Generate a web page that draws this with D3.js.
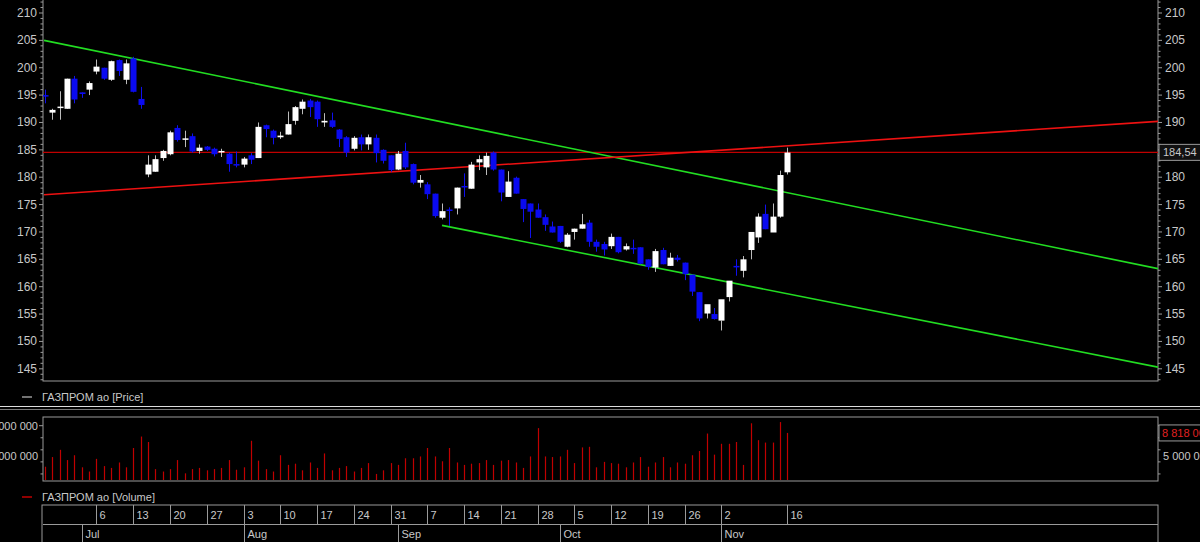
<!DOCTYPE html>
<html>
<head>
<script src="https://cdn.jsdelivr.net/npm/d3@7"></script>
<style>
body{margin:0;background:#000;}
text{font-family:"Liberation Sans",Arial,sans-serif;}
</style>
</head>
<body>
<script>
// OHLC, one per trading day
var opens  = [195,191.8,192.8,192.5,198,195.5,196,199.3,200,197.8,201.4,197.8,201.7,194.3,180.5,181,183.5,184.2,189,187,187.5,184.8,185.6,185.2,184.7,184.3,182.4,182.3,184,183.5,189.5,188.5,187.3,187.8,190.3,192.5,194,193.8,190,190.4,188.7,187.3,185.2,187.3,186,187.2,185,184,181.4,184.8,182.4,179.0,178.7,177.0,172.6,174.1,174.3,178.4,177.9,182.7,181.8,184.5,181.4,176.4,179.9,176.0,175.2,174.1,172.7,171.0,171.1,167.3,170.0,170.6,171.7,168.2,167.8,167.4,169.1,166.8,167.1,167.2,165.0,163.5,166.7,163.8,165.3,164.4,162.2,159.0,155.1,155.0,153.8,158.1,163.8,162.9,166.7,169.0,173.3,169.9,172.8,180.9];
var closes = [194.8,192.3,192.9,198,194.2,195.2,197.2,200.2,198,201.2,199.4,200.8,195.6,193.2,182.3,183.3,184.8,188.2,186.8,187.1,184.7,185.4,185,184.2,184.8,182.4,182.3,183.4,183.2,189.2,188.8,187.2,187.6,189.7,192.8,193.8,192.8,190.6,190.3,189.2,187,184.5,187.2,186,187.3,184.4,183,181.3,184.3,181.8,179.0,179.5,176.9,172.9,173.8,174.0,178.1,178.3,182.3,183.3,183.9,181.4,177.2,179.2,177.0,174.2,173.7,172.6,171.3,169.9,168.2,169.5,170.6,171.4,168.2,167.3,166.8,169.1,166.3,167.4,167.0,164.2,163.6,166.5,164.1,165.3,164.9,162.3,159.1,154.2,156.8,154.1,157.7,161.1,163.7,165.0,170.0,172.8,170.5,172.8,180.4,184.5];
var highs  = [196,192.5,195.7,198,198.5,195.5,197.5,201.5,200,201.3,201.5,201.5,202,196.5,184,184,185,188.5,189.5,188.5,188,186,185.7,185.4,185.2,184.5,184.7,183.7,184.4,190,189.6,188.7,188.3,192,193,194.2,194.3,194,191.7,191.8,188.8,187.5,187.5,187.8,187.8,187.8,185.1,184,184.8,186.3,182.5,180.4,179.1,177.0,175.2,174.5,178.1,180.7,182.8,184,184.5,184.7,181.4,181.1,180.1,176.0,175.2,175.2,173.2,171.9,171.1,169.8,170.6,173.3,172.2,168.6,168.2,169.7,169.1,167.9,168.6,167.2,165.0,166.9,167.1,166.2,165.8,164.4,162.2,159.0,155.8,156.1,153.8,158.7,165.0,165.6,168.1,173.4,175.0,175.2,181.2,185.4];
var lows   = [193.5,190.5,190.5,192.5,193.5,194.5,195,198.8,197.8,197.6,198.5,197,195.5,192.5,180,181,183,184,186.5,185.5,184.5,184.3,184.8,183.8,183.7,181,181.8,181.8,182.4,183.5,187.3,186,187,187.8,189.6,191.5,191,189.2,189.2,189,185.5,183.7,184.9,184.9,185,182.7,182.5,181,181.3,181.5,178.7,178.1,176.0,172.6,172.3,171.1,173.2,176.4,177.9,181.3,180.4,181.2,175.6,176.4,177.0,171.8,168.9,172.6,170.2,169.9,168.0,167.2,168.6,170.6,167.3,166.4,165.7,166.9,166.1,166.6,166.0,164.1,163.1,162.7,164.1,163.8,164.6,161.2,158.3,153.7,154.2,154.0,152.0,157.3,162.0,161.7,165.0,168.0,170.5,170.5,172.6,180.5];
// volume, millions
var volumes = [3.2,4.8,6.0,4.3,5.1,3.1,2.4,4.5,3.3,3.0,3.9,3.1,6.3,8.2,7.3,2.8,2.4,2.8,4.3,2.1,2.8,3.0,2.6,2.8,3.0,4.3,2.7,3.1,7.5,4.2,2.8,2.4,5.1,3.5,3.7,2.6,3.9,3.0,5.4,2.6,3.0,3.3,2.4,3.0,3.8,2.0,2.6,3.8,3.5,4.6,4.6,4.9,6.3,4.9,4.1,6.3,3.9,3.5,3.7,3.8,4.3,3.5,4.2,4.3,3.9,3.0,4.9,9.6,4.9,4.8,4.9,6.0,3.8,6.4,6.5,3.1,4.0,3.8,3.7,3.1,3.9,4.8,3.2,3.9,4.8,3.1,3.9,3.7,5.1,5.8,8.7,5.2,7.0,7.0,7.3,3.5,10.4,7.6,7.2,7.2,10.6,8.8];
var priceTicks = [145,150,155,160,165,170,175,180,185,190,195,200,205,210];
var weekLabels = ["6","13","20","27","3","10","17","24","31","7","14","21","28","5","12","19","26","2","16"];
var weekIdx    = [7,12,17,22,27,32,37,42,47,52,57,62,67,72,77,82,87,92,101];
var monthLabels = ["Jul","Aug","Sep","Oct","Nov"];
var monthIdx    = [5,27,48,70,92];
// trend lines: [index, price] pairs
var greenTop = [[-0.14,205],[151.4,163.3]];
var greenBot = [[54,171.2],[151.4,145.3]];
var redLine  = [[-0.14,176.8],[151.4,190.2]];
var lastPrice = 184.54;

var W=1200,H=542, L=43, R=1158;
var svg=d3.select("body").append("svg").attr("width",W).attr("height",H);
var x=d3.scaleLinear().domain([-0.14,151.4]).range([L+1,R]);
var y=d3.scaleLinear().domain([145,210]).range([368.8,13]);
var grey="#c8c8c8", frame="#9a9a9a";

// price panel
svg.append("rect").attr("x",L).attr("y",-1).attr("width",R-L).attr("height",382).attr("fill","none").attr("stroke",frame);
var minor=d3.range(143,213);
[[L,-1],[R,1]].forEach(function(s){
  var ax=svg.append("g");
  ax.selectAll("line").data(minor).enter().append("line")
    .attr("x1",s[0]).attr("x2",function(d){return s[0]+s[1]*(d%5==0?4:2.5);})
    .attr("y1",function(d){return y(d);}).attr("y2",function(d){return y(d);}).attr("stroke",frame);
  ax.selectAll("text").data(priceTicks).enter().append("text")
    .attr("x",s[1]<0?L-6:R+7).attr("y",function(d){return y(d)+4;})
    .attr("text-anchor",s[1]<0?"end":"start").attr("fill",grey).attr("font-size",12).text(function(d){return d;});
});
var clip=svg.append("clipPath").attr("id","pc").append("rect").attr("x",L).attr("y",0).attr("width",R-L).attr("height",380);
var plot=svg.append("g").attr("clip-path","url(#pc)");
plot.append("line").attr("x1",L).attr("x2",R).attr("y1",y(lastPrice)).attr("y2",y(lastPrice)).attr("stroke","#c00000").attr("stroke-width",1.2);
var ln=d3.line().x(function(d){return x(d[0]);}).y(function(d){return y(d[1]);});
plot.append("path").attr("d",ln(greenTop)).attr("stroke","#22dd22").attr("stroke-width",1.6).attr("fill","none");
plot.append("path").attr("d",ln(greenBot)).attr("stroke","#22dd22").attr("stroke-width",1.6).attr("fill","none");
plot.append("path").attr("d",ln(redLine)).attr("stroke","#ee1111").attr("stroke-width",1.6).attr("fill","none");

var c=plot.selectAll("g.c").data(opens).enter().append("g");
c.append("line").attr("x1",function(d,i){return Math.round(x(i))+0.5;}).attr("x2",function(d,i){return Math.round(x(i))+0.5;})
  .attr("y1",function(d,i){return y(highs[i]);}).attr("y2",function(d,i){return y(lows[i]);})
  .attr("stroke",function(d,i){return closes[i]>=d?"#bbbbbb":"#1010ee";});
c.append("rect").attr("x",function(d,i){return Math.round(x(i))-2.5;}).attr("width",6)
  .attr("y",function(d,i){return y(Math.max(d,closes[i]));})
  .attr("height",function(d,i){return Math.max(1.5,Math.abs(y(d)-y(closes[i])));})
  .attr("fill",function(d,i){return closes[i]>=d?"#ffffff":"#0a0af0";});

var lb=svg.append("g").attr("transform","translate(1159,"+y(lastPrice)+")");
lb.append("rect").attr("x",0).attr("y",-8).attr("width",45).attr("height",16).attr("fill","#111").attr("stroke",frame);
lb.append("text").attr("x",4).attr("y",4).attr("fill",grey).attr("font-size",11).text("184,54");

// legends
function legend(yy,col,txt){
  svg.append("line").attr("x1",22).attr("x2",32).attr("y1",yy).attr("y2",yy).attr("stroke",col).attr("stroke-width",1.5);
  svg.append("text").attr("x",42).attr("y",yy+4).attr("fill",grey).attr("font-size",11).text(txt);
}
legend(397,"#999","ГАЗПРОМ ао [Price]");
svg.append("line").attr("x1",0).attr("x2",W).attr("y1",406.5).attr("y2",406.5).attr("stroke","#ddd");
svg.append("line").attr("x1",0).attr("x2",W).attr("y1",409.5).attr("y2",409.5).attr("stroke","#777");

// volume panel
var vy=d3.scaleLinear().domain([0,10]).range([486,425.7]);
svg.append("rect").attr("x",L).attr("y",417).attr("width",R-L).attr("height",64).attr("fill","none").attr("stroke",frame);
svg.append("clipPath").attr("id","vc").append("rect").attr("x",L).attr("y",417).attr("width",R-L).attr("height",63);
svg.append("g").attr("clip-path","url(#vc)").selectAll("line").data(volumes).enter().append("line")
  .attr("x1",function(d,i){return Math.round(x(i))+0.5;}).attr("x2",function(d,i){return Math.round(x(i))+0.5;})
  .attr("y1",486).attr("y2",function(d){return vy(d);}).attr("stroke","#c00000").attr("stroke-width",1.2);
[2,4,6,8,10].forEach(function(v){
  [[L,-1],[R,1]].forEach(function(s){
    svg.append("line").attr("x1",s[0]).attr("x2",s[0]+s[1]*(v%5==0?4:2.5)).attr("y1",vy(v)).attr("y2",vy(v)).attr("stroke",frame);
  });
});
[[5,"5 000 000"],[10,"10 000 000"]].forEach(function(t){
  svg.append("text").attr("x",L-5).attr("y",vy(t[0])+4).attr("text-anchor","end").attr("fill",grey).attr("font-size",11).text(t[1]);
  if(t[0]==5) svg.append("text").attr("x",R+5).attr("y",vy(t[0])+4).attr("fill",grey).attr("font-size",11).text(t[1]);
});
var vl=svg.append("g").attr("transform","translate(1159,"+vy(volumes[volumes.length-1])+")");
vl.append("rect").attr("x",0).attr("y",-8).attr("width",45).attr("height",16).attr("fill","#000").attr("stroke",frame);
vl.append("text").attr("x",3).attr("y",4).attr("fill","#e02020").attr("font-size",11).text("8 818 000");
legend(497,"#c00000","ГАЗПРОМ ао [Volume]");

// date axis
svg.append("rect").attr("x",L-1).attr("y",505).attr("width",R-L+1).attr("height",45).attr("fill","none").attr("stroke",frame);
svg.append("line").attr("x1",L).attr("x2",R).attr("y1",524.5).attr("y2",524.5).attr("stroke",frame);
weekIdx.forEach(function(ix,k){
  var xx=Math.round(x(ix))+0.5;
  svg.append("line").attr("x1",xx).attr("x2",xx).attr("y1",505).attr("y2",524).attr("stroke",frame);
  svg.append("text").attr("x",xx+3).attr("y",519).attr("fill",grey).attr("font-size",11).text(weekLabels[k]);
});
monthIdx.forEach(function(ix,k){
  var xx=Math.round(x(ix))+0.5;
  svg.append("line").attr("x1",xx).attr("x2",xx).attr("y1",525).attr("y2",542).attr("stroke",frame);
  svg.append("text").attr("x",xx+3).attr("y",538).attr("fill",grey).attr("font-size",11).text(monthLabels[k]);
});
</script>
</body>
</html>
